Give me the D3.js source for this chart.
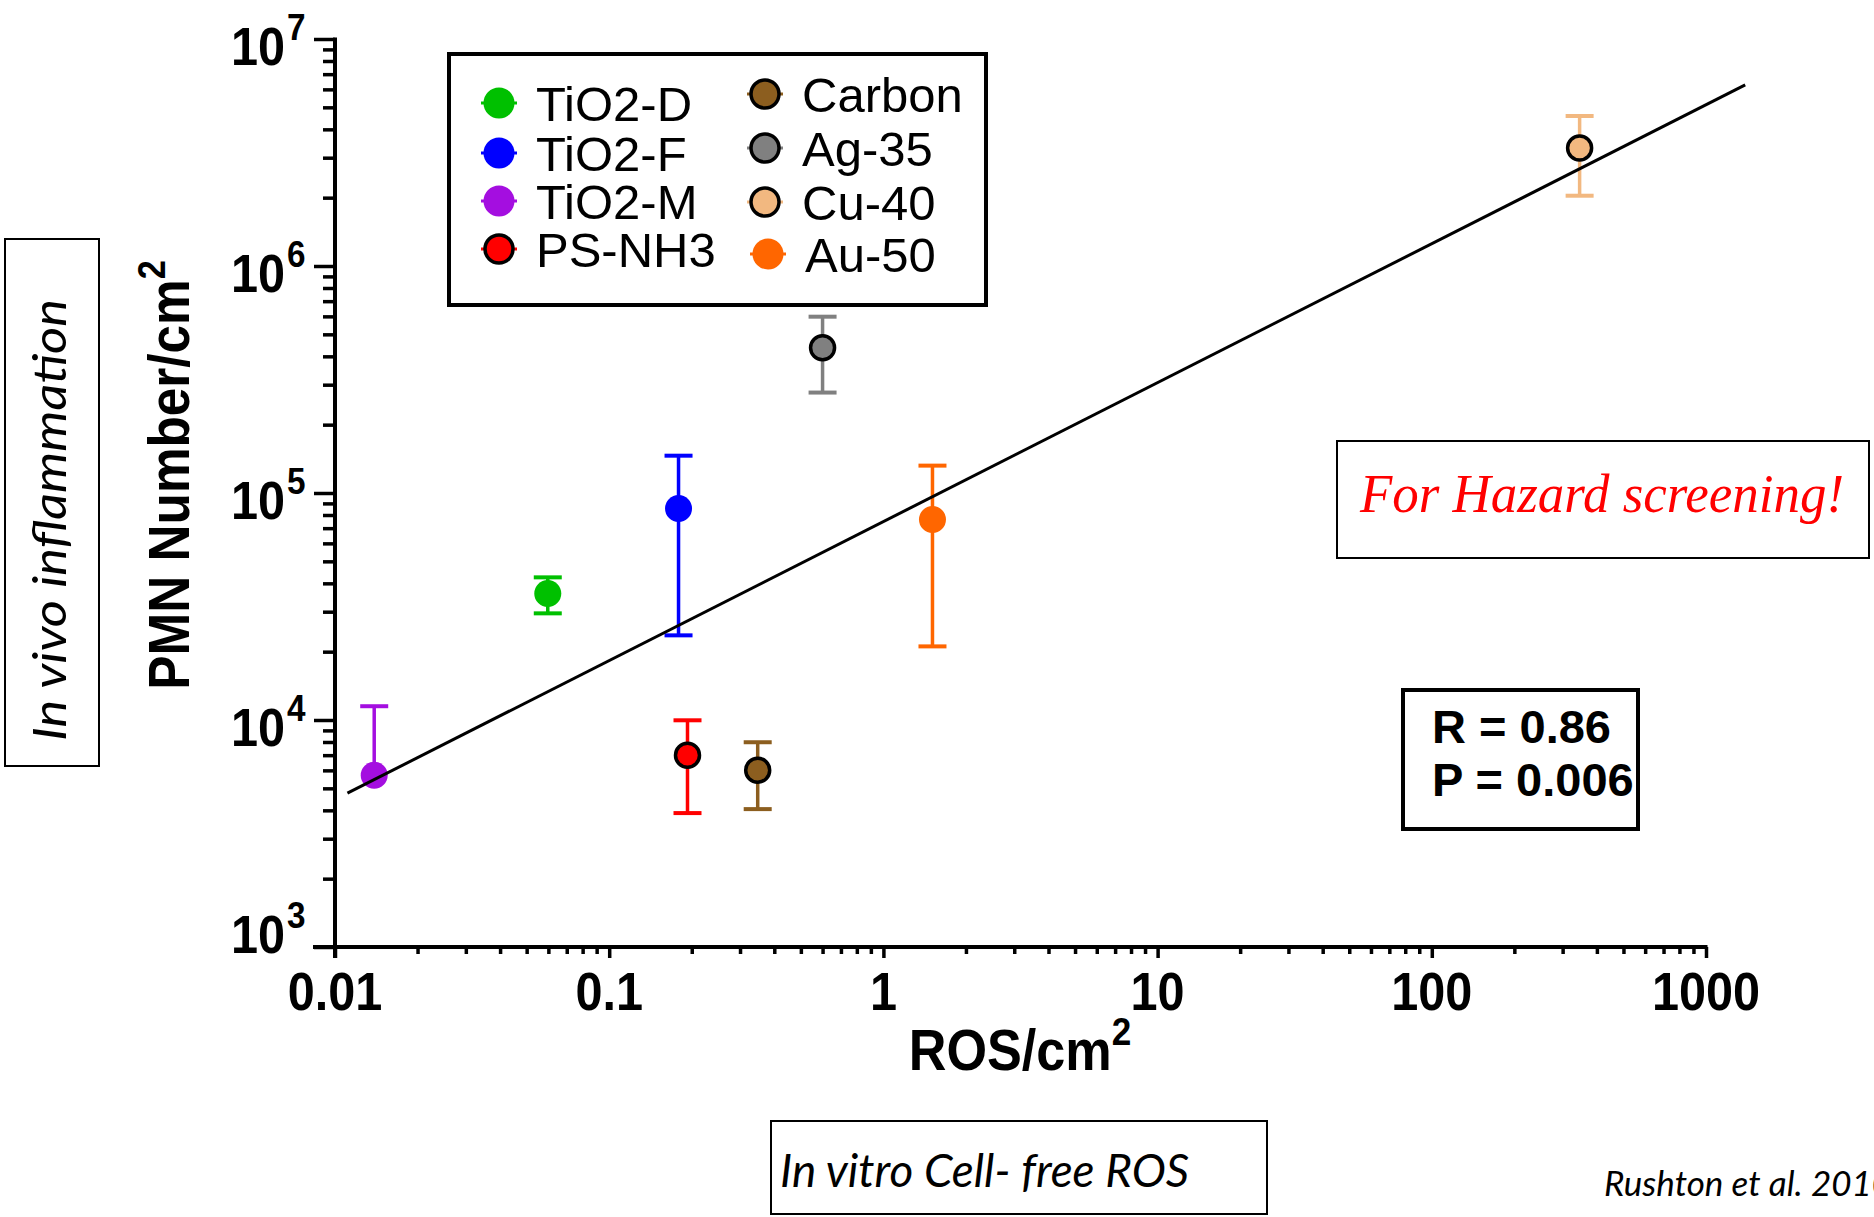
<!DOCTYPE html>
<html>
<head>
<meta charset="utf-8">
<script src="https://cdn.jsdelivr.net/npm/d3@7"></script>
<style>
  body { margin: 0; background: #fff; }
  svg { display: block; }
</style>
</head>
<body>
<div id="chart"></div>
<script>
// ---- data ----
var materials = ["TiO2-D", "TiO2-F", "TiO2-M", "PS-NH3", "Carbon", "Ag-35", "Cu-40", "Au-50"];
var rosValues = [0.0597, 0.179, 0.0139, 0.193, 0.348, 0.600, 346, 1.51];
var pmnValues = [36100, 85500, 5710, 7000, 6010, 436000, 3310000, 76400];
var pmnUpper  = [42500, 146000, 11500, 9970, 7980, 598000, 4580000, 132000];
var pmnLower  = [29500, 23600, null, 3890, 4050, 277000, 2040000, 21100];

var fitRos = [0.0111, 1390];
var fitPmn = [4760, 6280000];

var xTickValues = [0.01, 0.1, 1, 10, 100, 1000];
var xTickLabels = ["0.01", "0.1", "1", "10", "100", "1000"];
var yTickValues = [1e3, 1e4, 1e5, 1e6, 1e7];
var yTickExponents = ["3", "4", "5", "6", "7"];

var statLines = ["R = 0.86", "P = 0.006"];

// ---- styles ----
var colors   = ["#00c000", "#0000ff", "#a40ee0", "#ff0000", "#8c5e1f", "#808080", "#f2b880", "#ff6600"];
var outlined = [false, false, false, true, true, true, true, false];

var full_width = 1874, full_height = 1217;
var boldFont = "'Liberation Sans', Arial, sans-serif";

var svg = d3.select("#chart").append("svg")
            .attr("width", full_width)
            .attr("height", full_height);

var x = d3.scaleLog().domain([0.01, 1000]).range([335, 1706]);
var y = d3.scaleLog().domain([1e3, 1e7]).range([947, 39]);

function drawAxes(){

    var minorX = x.ticks().filter(function(d){ return xTickValues.indexOf(d) < 0; });
    var minorY = y.ticks().filter(function(d){ return yTickValues.indexOf(d) < 0; });

    // x axis
    var gx = svg.append("g").attr("transform", "translate(0," + y(1e3) + ")");
    gx.append("g")
      .call(d3.axisBottom(x).tickValues(minorX).tickSize(7).tickSizeOuter(0).tickFormat(""))
      .call(function(g){ g.select(".domain").remove(); });
    gx.append("g")
      .call(d3.axisBottom(x).tickValues(xTickValues).tickSize(11).tickSizeOuter(0).tickFormat(""))
      .call(function(g){ g.select(".domain").remove(); });
    gx.append("line").attr("x1", 313).attr("x2", x(1000) + 1.5)
      .attr("stroke", "#000").attr("stroke-width", 4);
    gx.selectAll(".tick line").attr("stroke-width", 3.5);

    // y axis
    var gy = svg.append("g").attr("transform", "translate(" + x(0.01) + ",0)");
    gy.append("g")
      .call(d3.axisLeft(y).tickValues(minorY).tickSize(12).tickSizeOuter(0).tickFormat(""))
      .call(function(g){ g.select(".domain").remove(); });
    gy.append("g")
      .call(d3.axisLeft(y).tickValues(yTickValues).tickSize(21).tickSizeOuter(0).tickFormat(""))
      .call(function(g){ g.select(".domain").remove(); });
    gy.append("line").attr("y1", y(1e7) - 1.5).attr("y2", y(1e3) + 11)
      .attr("stroke", "#000").attr("stroke-width", 4);
    gy.selectAll(".tick line").attr("stroke-width", 3.5);

    // x tick labels
    svg.selectAll(".xlab").data(xTickValues).enter().append("text")
       .attr("class", "xlab")
       .attr("transform", function(d){ return "translate(" + x(d) + ",1010) scale(0.9,1)"; })
       .attr("text-anchor", "middle")
       .style("font-family", boldFont).style("font-weight", "bold").style("font-size", "54px")
       .text(function(d, i){ return xTickLabels[i]; });

    // y tick labels, 10 with exponent
    var ylab = svg.selectAll(".ylab").data(yTickValues).enter().append("g")
                  .attr("class", "ylab")
                  .attr("transform", function(d){ return "translate(0," + (y(d) + (d === 1e3 ? -20 : 0)) + ")"; });
    ylab.append("text")
        .attr("transform", "translate(285,26) scale(0.9,1)")
        .attr("text-anchor", "end")
        .style("font-family", boldFont).style("font-weight", "bold").style("font-size", "54px")
        .text("10");
    ylab.append("text")
        .attr("transform", "translate(287,1) scale(0.9,1)")
        .style("font-family", boldFont).style("font-weight", "bold").style("font-size", "37px")
        .text(function(d, i){ return yTickExponents[i]; });

    // axis titles
    var xt = svg.append("text")
       .attr("transform", "translate(1020,1070) scale(0.9,1)")
       .attr("text-anchor", "middle")
       .style("font-family", boldFont).style("font-weight", "bold").style("font-size", "58px");
    xt.append("tspan").text("ROS/cm");
    xt.append("tspan").attr("dy", -25).style("font-size", "39px").text("2");

    var yt = svg.append("text")
       .attr("transform", "translate(189,475) rotate(-90) scale(0.9,1)")
       .attr("text-anchor", "middle")
       .style("font-family", boldFont).style("font-weight", "bold").style("font-size", "57px");
    yt.append("tspan").text("PMN Number/cm");
    yt.append("tspan").attr("dy", -24).style("font-size", "38px").text("2");
}

function drawPoints(){

    var idx = d3.range(materials.length);

    var bars = svg.append("g").selectAll("g").data(idx).enter().append("g")
                  .attr("stroke", function(i){ return colors[i]; });

    bars.append("line")
        .attr("x1", function(i){ return x(rosValues[i]); })
        .attr("x2", function(i){ return x(rosValues[i]); })
        .attr("y1", function(i){ return y(pmnUpper[i]); })
        .attr("y2", function(i){ return y(pmnLower[i] === null ? pmnValues[i] : pmnLower[i]); })
        .attr("stroke-width", 3.5);

    bars.append("line")
        .attr("x1", function(i){ return x(rosValues[i]) - 14; })
        .attr("x2", function(i){ return x(rosValues[i]) + 14; })
        .attr("y1", function(i){ return y(pmnUpper[i]); })
        .attr("y2", function(i){ return y(pmnUpper[i]); })
        .attr("stroke-width", 4);

    bars.filter(function(i){ return pmnLower[i] !== null; })
        .append("line")
        .attr("x1", function(i){ return x(rosValues[i]) - 14; })
        .attr("x2", function(i){ return x(rosValues[i]) + 14; })
        .attr("y1", function(i){ return y(pmnLower[i]); })
        .attr("y2", function(i){ return y(pmnLower[i]); })
        .attr("stroke-width", 4);

    svg.append("g").selectAll("circle").data(idx).enter().append("circle")
       .attr("cx", function(i){ return x(rosValues[i]); })
       .attr("cy", function(i){ return y(pmnValues[i]); })
       .attr("r", function(i){ return outlined[i] ? 12 : 13.5; })
       .attr("fill", function(i){ return colors[i]; })
       .attr("stroke", function(i){ return outlined[i] ? "#000" : "none"; })
       .attr("stroke-width", 3.5);

    // regression line
    svg.append("line")
       .attr("x1", x(fitRos[0])).attr("y1", y(fitPmn[0]))
       .attr("x2", x(fitRos[1])).attr("y2", y(fitPmn[1]))
       .attr("stroke", "#000").attr("stroke-width", 3);
}

function drawLegend(){

    svg.append("rect")
       .attr("x", 449).attr("y", 54).attr("width", 537).attr("height", 251)
       .attr("fill", "none").attr("stroke", "#000").attr("stroke-width", 4);

    var rowsLeft = [103, 153, 201, 249];
    var rowsRight = [94, 148, 202, 254];

    var items = svg.append("g").selectAll("g").data(d3.range(materials.length)).enter().append("g")
                   .attr("transform", function(i){
                       var col = i < 4 ? 499 : (i === 7 ? 768 : 765);
                       var row = i < 4 ? rowsLeft[i] : rowsRight[i - 4];
                       return "translate(" + col + "," + row + ")";
                   });

    items.append("line")
         .attr("x1", -18).attr("x2", 18)
         .attr("stroke", function(i){ return colors[i]; })
         .attr("stroke-width", 3);

    items.append("circle")
         .attr("r", function(i){ return outlined[i] ? 14 : 15.5; })
         .attr("fill", function(i){ return colors[i]; })
         .attr("stroke", function(i){ return outlined[i] ? "#000" : "none"; })
         .attr("stroke-width", 3.5);

    items.append("text")
         .attr("x", 37).attr("y", 18)
         .style("font-family", boldFont).style("font-size", "49px")
         .text(function(i){ return materials[i]; });
}

function drawNotes(){

    // stats box
    svg.append("rect")
       .attr("x", 1403).attr("y", 690).attr("width", 235).attr("height", 139)
       .attr("fill", "none").attr("stroke", "#000").attr("stroke-width", 4);
    svg.selectAll(".stat").data(statLines).enter().append("text")
       .attr("class", "stat")
       .attr("x", 1432).attr("y", function(d, i){ return 743 + i * 53; })
       .style("font-family", boldFont).style("font-weight", "bold").style("font-size", "47px")
       .text(function(d){ return d; });

    // hazard note
    svg.append("rect")
       .attr("x", 1337).attr("y", 441).attr("width", 532).attr("height", 117)
       .attr("fill", "none").attr("stroke", "#000").attr("stroke-width", 2);
    svg.append("text")
       .attr("x", 1602).attr("y", 512)
       .attr("text-anchor", "middle")
       .attr("textLength", 484).attr("lengthAdjust", "spacingAndGlyphs")
       .style("font-family", "'Liberation Serif', 'Times New Roman', serif")
       .style("font-style", "italic").style("font-size", "54px")
       .attr("fill", "#ff0000")
       .text("For Hazard screening!");

    // in vivo side box
    svg.append("rect")
       .attr("x", 5).attr("y", 239).attr("width", 94).attr("height", 527)
       .attr("fill", "none").attr("stroke", "#000").attr("stroke-width", 2);
    svg.append("text")
       .attr("transform", "translate(66,520) rotate(-90)")
       .attr("text-anchor", "middle")
       .attr("textLength", 442).attr("lengthAdjust", "spacingAndGlyphs")
       .style("font-family", "Lato, 'Open Sans', sans-serif")
       .style("font-style", "italic").style("font-size", "46px")
       .text("In vivo inflammation");

    // in vitro bottom box
    svg.append("rect")
       .attr("x", 771).attr("y", 1121).attr("width", 496).attr("height", 93)
       .attr("fill", "none").attr("stroke", "#000").attr("stroke-width", 2);
    svg.append("text")
       .attr("x", 780).attr("y", 1187)
       .attr("textLength", 409).attr("lengthAdjust", "spacingAndGlyphs")
       .style("font-family", "Lato, 'Open Sans', sans-serif")
       .style("font-style", "italic").style("font-size", "46px")
       .text("In vitro Cell- free ROS");

    // source note, runs off the right edge as in the original
    svg.append("text")
       .attr("x", 1604).attr("y", 1196)
       .style("font-family", "Lato, 'Open Sans', sans-serif")
       .style("font-style", "italic").style("font-size", "35px")
       .text("Rushton et al. 2010");
}

drawAxes();
drawPoints();
drawLegend();
drawNotes();
</script>
</body>
</html>
